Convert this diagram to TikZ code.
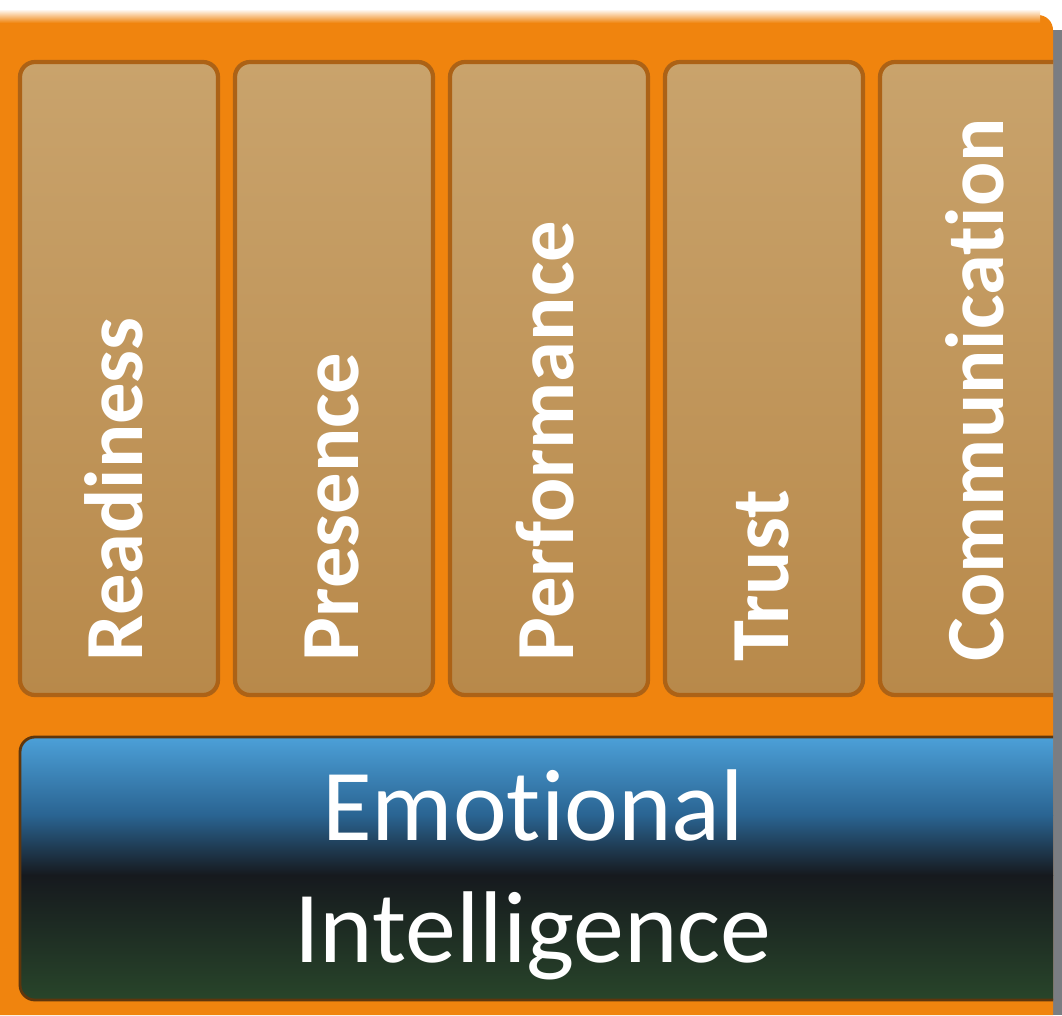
\documentclass[tikz,border=0pt]{standalone}
\usepackage{fontspec}
\setmainfont{Carlito}[Ligatures=CommonOff]
\definecolor{bgorange}{RGB}{240,132,14}
\definecolor{colborder}{RGB}{172,98,22}
\definecolor{coltop}{RGB}{201,163,108}
\definecolor{colbot}{RGB}{184,137,74}
\definecolor{eiblue}{RGB}{76,160,216}
\definecolor{eimid}{RGB}{42,100,146}
\definecolor{eidark}{RGB}{22,25,30}
\definecolor{eigreen}{RGB}{40,69,42}
\definecolor{edgegray}{RGB}{122,125,130}

\begin{document}
\begin{tikzpicture}[
  pillar/.style={rounded corners=0.15cm, draw=colborder, line width=1.2pt,
    top color=coltop, bottom color=colbot},
  pillartext/.style={text=white, font=\fontsize{23.5}{28}\selectfont\bfseries,
    rotate=90, anchor=base west, inner sep=0pt},
  eitext/.style={text=white, font=\fontsize{29}{35}\selectfont, anchor=base, inner sep=0pt}]
\useasboundingbox (0,0) rectangle (10.62,10.15);
% page and orange board
\fill[white] (0,0) rectangle (10.62,10.15);
\fill[edgegray] (10.50,0) rectangle (10.62,9.85);
\fill[bgorange] (0,0) |- (10.38,10.0) arc (90:0:0.15) |- (0,0);
\shade[top color=white, bottom color=bgorange] (0,9.92) rectangle (10.40,10.06);
\begin{scope}
\clip (0,0) rectangle (10.53,10.0);
% pillars
\foreach \lbl [count=\i from 0] in {Readiness,Presence,Performance,Trust,Communication} {
  \path[pillar] (0.20+2.15*\i,3.20) rectangle ++(1.98,6.33);
  \node[pillartext] (p\i) at (0.20+2.15*\i+1.23,3.53) {\lbl};
}
% base bar
\begin{scope}
\clip[rounded corners=0.15cm] (0.20,0.15) rectangle (10.80,2.78);
\shade[top color=eiblue, bottom color=eimid] (0.20,2.00) rectangle (10.80,2.78);
\shade[top color=eimid, bottom color=eidark] (0.20,1.40) rectangle (10.80,2.00);
\shade[top color=eidark, bottom color=eigreen] (0.20,0.15) rectangle (10.80,1.40);
\end{scope}
\draw[colborder!55!black, line width=0.8pt, rounded corners=0.15cm] (0.20,0.15) rectangle (10.80,2.78);
\end{scope}
\node[eitext] (emo) at (5.33,1.75) {Emotional};
\node[eitext] (intel) at (5.33,0.53) {Intelligence};
\end{tikzpicture}
\end{document}
